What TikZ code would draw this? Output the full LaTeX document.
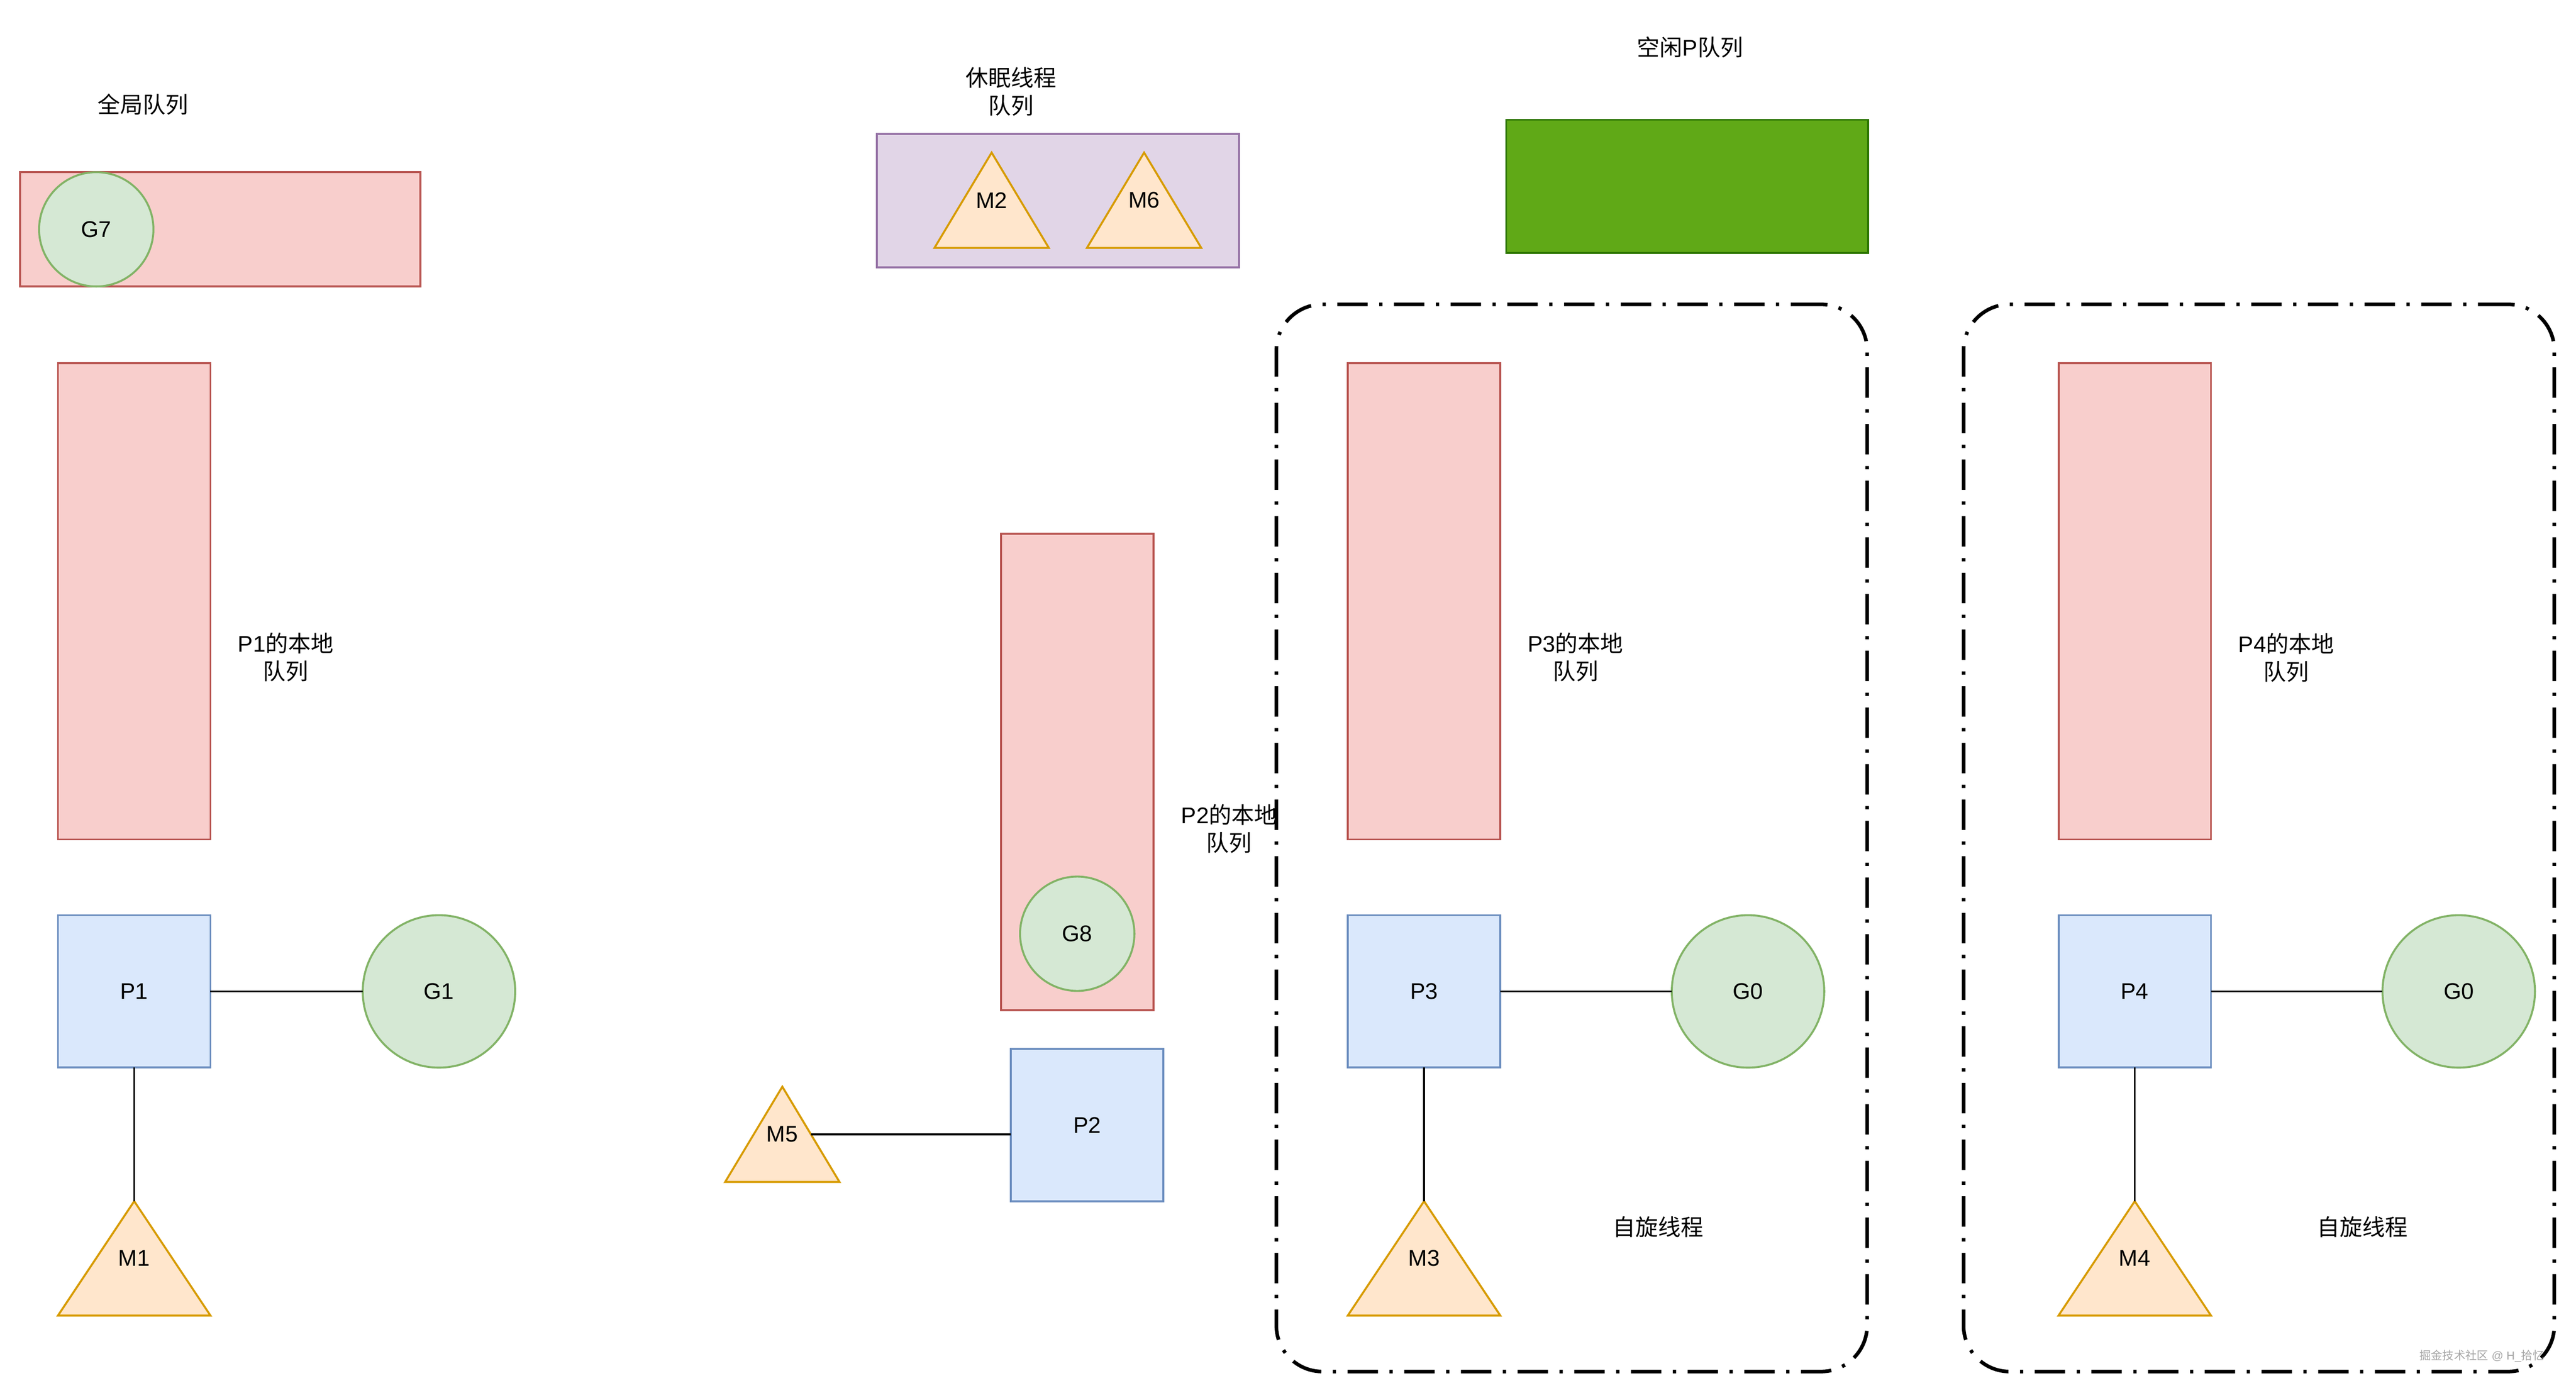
\documentclass[tikz,border=0pt]{standalone}
\usepackage{fontspec}
\setmainfont{Liberation Sans}
\newfontfamily\cjk{Noto Sans CJK SC}
\usepackage{tikz}
\usetikzlibrary{calc}
\definecolor{qfill}{HTML}{F8CECC}
\definecolor{qline}{HTML}{B85450}
\definecolor{pfill}{HTML}{DAE8FC}
\definecolor{pline}{HTML}{6C8EBF}
\definecolor{gfill}{HTML}{D5E8D4}
\definecolor{gline}{HTML}{82B366}
\definecolor{mfill}{HTML}{FFE6CC}
\definecolor{mline}{HTML}{D79B00}
\definecolor{sfill}{HTML}{E1D5E7}
\definecolor{sline}{HTML}{9673A6}
\definecolor{ifill}{HTML}{60A917}
\definecolor{iline}{HTML}{2D7600}
\def\mthread(#1)(#2)(#3:#4)#5{%
	\node[mbox, minimum width=#3, minimum height=#4] (#1) at (#2) {};
	\draw[mtri] (#1.south west) -- (#1.south east) -- (#1.north) -- cycle;
	\node at (#1) {#5};
}

\begin{document}
\begin{tikzpicture}[x=1pt, y=-1pt, font=\fontsize{13.8}{17}\selectfont,
		box/.style={draw, line width=1.2pt, inner sep=0pt, outer sep=0pt},
		queue/.style={box, fill=qfill, draw=qline, minimum width=92.8pt, minimum height=290pt},
		pbox/.style={box, fill=pfill, draw=pline, minimum size=92.8pt},
		gball/.style={box, circle, fill=gfill, draw=gline, minimum size=92.8pt},
		mbox/.style={inner sep=0pt, outer sep=0pt},
		mtri/.style={line width=1.2pt, fill=mfill, draw=mline, line join=miter},
		sleepbox/.style={box, fill=sfill, draw=sline, minimum width=220.4pt, minimum height=81.2pt},
		idlebox/.style={box, fill=ifill, draw=iline, minimum width=220.4pt, minimum height=81.2pt},
		spinbox/.style={draw, line width=2.2pt, rounded corners=28pt, inner sep=0pt,
			dash pattern=on 18.5pt off 7pt on 2pt off 7pt, minimum width=359.6pt, minimum height=649.6pt},
		txt/.style={align=center, inner sep=0pt},
		wire/.style={draw, line width=1.2pt},
		wmark/.style={font=\fontsize{7}{8}\selectfont, text=black!35, inner sep=0pt}]
			%%%%% START %%%%%
			
			\fill[white] (0, 0) rectangle (1568, 847.8);
			\useasboundingbox (0, 0) rectangle (1568, 847.8);
			
			% global queue
			\node[txt] (tglobal) at (87, 63.4) {{\cjk 全局队列}};
			\node[queue, minimum width=243.6pt, minimum height=69.6pt] (gq) at (134, 139.6) {};
			\node[gball, minimum size=69.6pt] (g7) at (58.6, 139.6) {G7};
			
			% P1
			\node[queue] (q1) at (81.7, 366) {};
			\node[txt] (t1) at (174, 400) {P1{\cjk 的本地}\\{\cjk 队列}};
			\node[pbox] (p1) at (81.7, 603.5) {P1};
			\node[gball] (g1) at (267.2, 603.5) {G1};
			\mthread(m1)(81.7, 766)(92.8pt:69.6pt){M1}
			\draw[wire] (p1) -- (g1);
			\draw[wire] (p1) -- (m1.north);
			
			% sleeping threads
			\node[txt] (tsleep) at (615.3, 55.8) {{\cjk 休眠线程}\\{\cjk 队列}};
			\node[sleepbox] (sleep) at (644, 122.2) {};
			\mthread(m2)(603.6, 121.9)(69.6pt:58pt){M2}
			\mthread(m6)(696.4, 121.9)(69.6pt:58pt){M6}
			
			% idle P queue
			\node[txt] (tidle) at (1028.7, 28.7) {{\cjk 空闲}P{\cjk 队列}};
			\node[idlebox] (idle) at (1027, 113.5) {};
			
			% P2
			\node[queue] (q2) at (655.7, 470) {};
			\node[gball, minimum size=69.6pt] (g8) at (655.7, 568.4) {G8};
			\node[txt] (t2) at (748.2, 504.6) {P2{\cjk 的本地}\\{\cjk 队列}};
			\node[pbox] (p2) at (661.7, 685) {P2};
			\mthread(m5)(476.2, 690.5)(69.6pt:58pt){M5}
			\draw[wire] ($(m5.north)!0.5!(m5.south east)$) -- (p2.west |- m5);
			
			% P3
			\node[spinbox] (spin1) at (956.7, 510.1) {};
			\node[queue] (q3) at (866.8, 366) {};
			\node[txt] (t3) at (959, 400) {P3{\cjk 的本地}\\{\cjk 队列}};
			\node[pbox] (p3) at (866.8, 603.5) {P3};
			\node[gball] (g3) at (1064, 603.5) {G0};
			\mthread(m3)(866.8, 766)(92.8pt:69.6pt){M3}
			\node[txt] (tspin1) at (1009.3, 747) {{\cjk 自旋线程}};
			\draw[wire] (p3) -- (g3);
			\draw[wire] (p3) -- (m3.north);
			
			% P4
			\node[spinbox] (spin2) at (1375, 510.1) {};
			\node[queue] (q4) at (1299.4, 366) {};
			\node[txt] (t4) at (1391.7, 400.5) {P4{\cjk 的本地}\\{\cjk 队列}};
			\node[pbox] (p4) at (1299.4, 603.5) {P4};
			\node[gball] (g4) at (1496.6, 603.5) {G0};
			\mthread(m4)(1299.4, 766)(92.8pt:69.6pt){M4}
			\node[txt] (tspin2) at (1438, 747) {{\cjk 自旋线程}};
			\draw[wire] (p4) -- (g4);
			\draw[wire] (p4) -- (m4.north);
			
			\node[wmark] (wm) at (1510.7, 825.5) {{\cjk 掘金技术社区} @ H\_{\cjk 拾忆}};
			
			%%%%% END %%%%%
\end{tikzpicture}
\end{document}
